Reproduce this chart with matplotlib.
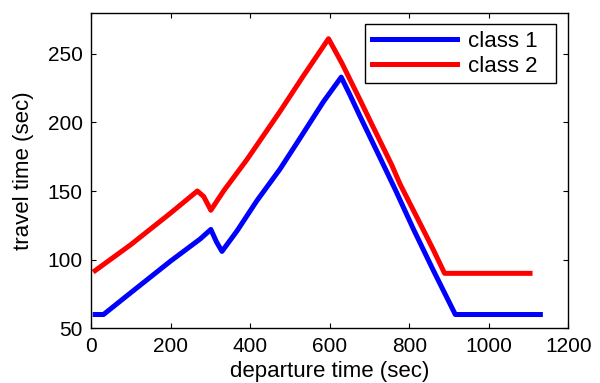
from matplotlib import pyplot as plt

plt.rcParams['font.family'] = ['Liberation Sans', 'DejaVu Sans']

# departure time (sec) / travel time (sec)
class1_t = [10, 31, 100, 200, 274, 301, 315, 329, 367, 417, 475, 522, 584,
            629, 651, 677, 727, 765, 811, 861, 916, 1130]
class1_tt = [60, 60, 76, 99, 115, 122, 113, 106, 121, 143, 166, 187, 215,
             233, 220, 204, 174, 151, 122, 92, 60, 60]

class2_t = [10, 100, 200, 267, 283, 301, 333, 392, 475, 534, 597, 631, 677,
            702, 756, 777, 828, 861, 889, 1104]
class2_tt = [92, 111, 134, 150, 146, 136, 150, 173, 208, 234, 261, 243, 216,
             201, 169, 155, 126, 107, 90, 90]

fig = plt.figure(figsize=(6, 3.83), dpi=100)
ax = fig.add_axes([0.152, 0.143, 0.795, 0.824])

ax.plot(class1_t, class1_tt, color='#0000ff', lw=3.6, label='class 1  ')
ax.plot(class2_t, class2_tt, color='#ff0000', lw=3.6, label='class 2  ')

ax.set_xlim(0, 1200)
ax.set_ylim(50, 280)
ax.set_xticks(range(0, 1201, 200))
ax.set_yticks(range(50, 251, 50))
ax.tick_params(direction='in', top=True, right=True, length=3.5,
               labelsize=15, pad=6)
for s in ax.spines.values():
    s.set_linewidth(1.0)

ax.set_xlabel('departure time (sec)', fontsize=16, labelpad=4)
ax.set_ylabel('travel time (sec)', fontsize=16, labelpad=10)

leg = ax.legend(loc='upper right', fontsize=16, handlelength=3.85,
                fancybox=False, edgecolor='black', framealpha=1,
                borderpad=0.28, labelspacing=0.18, handletextpad=0.5,
                borderaxespad=0, bbox_to_anchor=(0.975, 0.963))
leg.get_frame().set_linewidth(1.0)

fig.savefig('out.png', dpi=100)
